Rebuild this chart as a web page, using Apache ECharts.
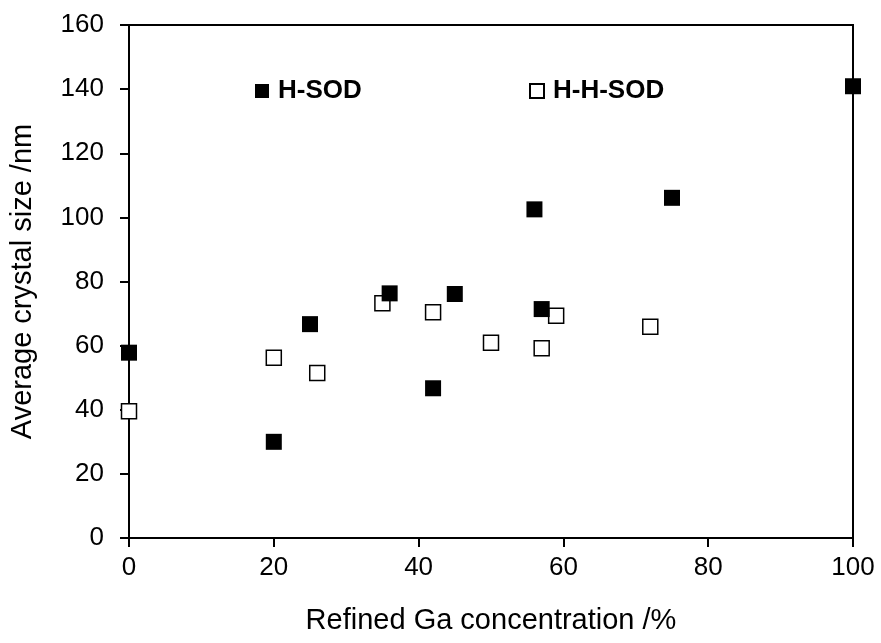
<!DOCTYPE html>
<html>
<head>
<meta charset="utf-8">
<script src="https://cdn.jsdelivr.net/npm/echarts@6/dist/echarts.min.js"></script>
<style>
    html, body { margin: 0; padding: 0; background: #fff; }
    #chart { width: 881px; height: 643px; }
</style>
</head>
<body>
<div id="chart"></div>
<script>
    // values
    var hsodX = [0, 20, 25, 36, 42, 45, 56, 57, 75, 100];
    var hsodY = [57.8, 30, 66.7, 76.3, 46.7, 76.1, 102.5, 71.4, 106.1, 140.9];
    var hhsodX = [0, 20, 26, 35, 42, 50, 57, 59, 72];
    var hhsodY = [39.5, 56.2, 51.5, 73.2, 70.4, 60.9, 59.2, 69.3, 65.9];
    var xTicks = [0, 20, 40, 60, 80, 100];
    var yTicks = [0, 20, 40, 60, 80, 100, 120, 140, 160];

    var font = '"Liberation Sans", Arial, sans-serif';

    function pairs(xs, ys) {
        var out = [];
        for (var i = 0; i < xs.length; i++) out.push([xs[i], ys[i]]);
        return out;
    }

    var myChart = echarts.init(document.getElementById('chart'));

    var legendText = { fontFamily: font, fontSize: 26, fontWeight: 'bold', color: '#000', padding: [0, 0, 0, 4] };

    var option = {
        animation: false,
        backgroundColor: '#fff',
        textStyle: { fontFamily: font, color: '#000' },
        grid: {
            left: 127, right: 28, top: 25, bottom: 105,
            show: true, borderColor: '#000', borderWidth: 2
        },
        legend: [{
            data: ['H-SOD'],
            left: 250, top: 73,
            itemWidth: 14, itemHeight: 14,
            textStyle: legendText
        }, {
            data: ['H-H-SOD'],
            left: 524, top: 73,
            itemWidth: 14, itemHeight: 14,
            textStyle: legendText
        }],
        xAxis: {
            type: 'value',
            min: xTicks[0], max: xTicks[xTicks.length - 1], interval: 20,
            name: 'Refined Ga concentration /%',
            nameLocation: 'middle', nameGap: 68,
            nameTextStyle: { fontFamily: font, fontSize: 29, color: '#000' },
            axisLine: { lineStyle: { color: '#000', width: 2 } },
            axisTick: { show: true, inside: false, length: 9, lineStyle: { color: '#000', width: 2 } },
            axisLabel: { fontFamily: font, fontSize: 26, color: '#000', margin: 17 },
            splitLine: { show: false }
        },
        yAxis: {
            type: 'value',
            min: yTicks[0], max: yTicks[yTicks.length - 1], interval: 20,
            name: 'Average crystal size /nm',
            nameLocation: 'middle', nameGap: 92,
            nameTextStyle: { fontFamily: font, fontSize: 29, color: '#000' },
            axisLine: { show: true, lineStyle: { color: '#000', width: 2 } },
            axisTick: { show: true, inside: false, length: 9, lineStyle: { color: '#000', width: 2 } },
            axisLabel: { fontFamily: font, fontSize: 26, color: '#000', margin: 25 },
            splitLine: { show: false }
        },
        series: [{
            name: 'H-H-SOD',
            type: 'scatter',
            symbol: 'rect',
            symbolSize: 15,
            clip: false,
            itemStyle: { color: '#fff', borderColor: '#000', borderWidth: 1.5, opacity: 1 },
            data: pairs(hhsodX, hhsodY)
        }, {
            name: 'H-SOD',
            type: 'scatter',
            symbol: 'rect',
            symbolSize: 16,
            clip: false,
            itemStyle: { color: '#000', opacity: 1 },
            data: pairs(hsodX, hsodY)
        }]
    };

    myChart.setOption(option);
</script>
</body>
</html>
